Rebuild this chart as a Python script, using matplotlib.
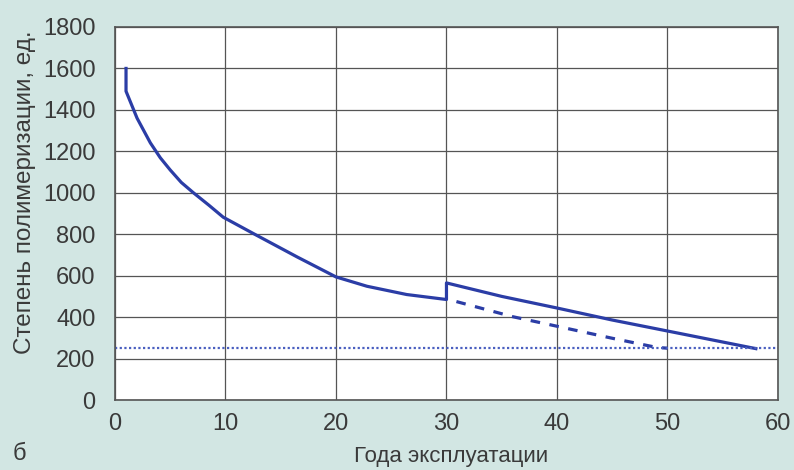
import matplotlib.pyplot as plt

# годы эксплуатации / степень полимеризации
years = [1, 1, 2, 3.2, 4.1, 5, 6, 7.1, 8.5, 9.8, 12.5, 16.5, 20, 22.8, 26.4, 30,
         30, 35, 40, 45, 50, 58]
dp = [1600, 1490, 1360, 1241, 1169, 1110, 1050, 1000, 940, 882, 804, 690, 594, 549, 509, 485,
      565, 500, 444, 386, 333, 248]

# без ремонта (пунктир)
years_dash = [30.9, 36, 40, 45, 49, 50]
dp_dash = [475, 402, 356, 298, 254, 250]

limit_dp = 250
xticks = [0, 10, 20, 30, 40, 50, 60]
yticks = [0, 200, 400, 600, 800, 1000, 1200, 1400, 1600, 1800]

plt.rcParams['font.family'] = ['Liberation Sans', 'DejaVu Sans']
txt = '#3a3a3a'
bg = '#d2e6e3'

fig = plt.figure(figsize=(7.94, 4.70), dpi=100, facecolor=bg)
ax = fig.add_axes([0.1448, 0.1489, 0.835, 0.7937])
ax.set_facecolor('white')

ax.plot(years, dp, color='#2b3da6', lw=2.3, solid_joinstyle='round')
ax.plot(years_dash, dp_dash, color='#2b3da6', lw=2.3, ls=(0, (3, 3)))
ax.axhline(limit_dp, color='#4a5fc0', lw=1.6, ls=(0, (1, 1.1)))

ax.set_xlim(0, 60)
ax.set_ylim(0, 1800)
ax.set_xticks(xticks)
ax.set_yticks(yticks)
ax.grid(True, color='#555555', lw=0.9)
ax.set_axisbelow(True)
for s in ax.spines.values():
    s.set_color('#555555')
    s.set_linewidth(1.2)
ax.tick_params(length=0, labelsize=17, labelcolor=txt)
ax.tick_params(axis='y', pad=14)
ax.tick_params(axis='x', pad=9)

fig.text(0.0315, 0.591, 'Степень полимеризации, ед.', rotation=90, ha='center', va='center',
         fontsize=17.5, color=txt)
fig.text(0.568, 0.006, 'Года эксплуатации', ha='center', va='bottom', fontsize=16, color=txt)
fig.text(0.025, 0.035, 'б', ha='center', va='center', fontsize=17, color=txt)

fig.savefig('out.png', dpi=100, facecolor=bg)
